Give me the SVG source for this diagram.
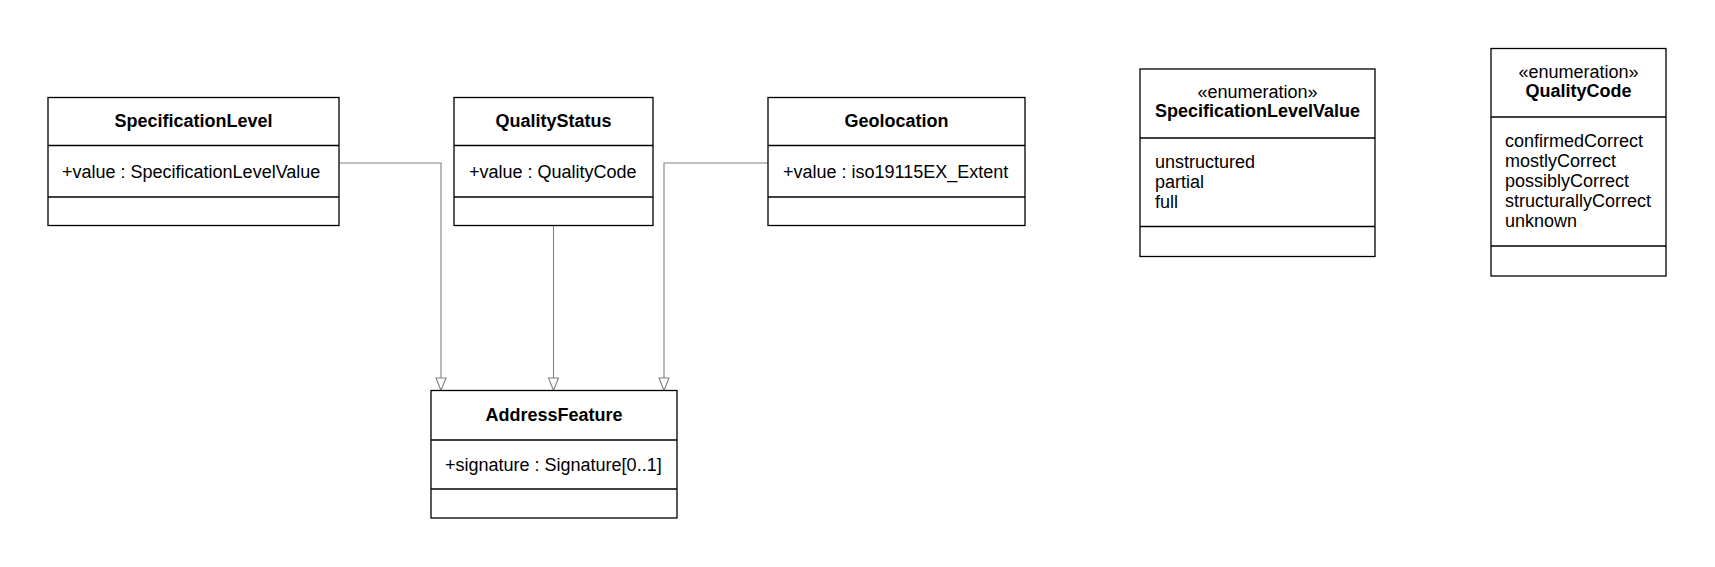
<svg xmlns="http://www.w3.org/2000/svg" width="1715" height="567" viewBox="0 0 1715 567">
<style>
.box{fill:#fff;stroke:#000;stroke-width:1.3}
.div{stroke:#000;stroke-width:1.3}
.t{font-family:"Liberation Sans",Arial,sans-serif;font-size:18px;fill:#000}
.b{font-weight:bold}
.c{text-anchor:middle}
.conn{fill:none;stroke:#808080;stroke-width:1.1}
.head{fill:#fff;stroke:#808080;stroke-width:1.1}
</style>
<rect width="1715" height="567" fill="#fff"/>
<g id="connectors">
<polyline class="conn" points="339,163 441,163 441,378"/>
<polygon class="head" points="441,390.5 436,378 446,378"/>
<polyline class="conn" points="553.5,225 553.5,378"/>
<polygon class="head" points="553.5,390.5 548.5,378 558.5,378"/>
<polyline class="conn" points="768,163 664,163 664,378"/>
<polygon class="head" points="664,390.5 659,378 669,378"/>
</g>
<g id="SpecificationLevel">
<rect class="box" x="48" y="97.5" width="291" height="128"/>
<line class="div" x1="48" y1="145.5" x2="339" y2="145.5"/>
<line class="div" x1="48" y1="197" x2="339" y2="197"/>
<text class="t b c" x="193.5" y="127">SpecificationLevel</text>
<text class="t" x="62" y="178">+value : SpecificationLevelValue</text>
</g>
<g id="QualityStatus">
<rect class="box" x="454" y="97.5" width="199" height="128"/>
<line class="div" x1="454" y1="145.5" x2="653" y2="145.5"/>
<line class="div" x1="454" y1="197" x2="653" y2="197"/>
<text class="t b c" x="553.5" y="127">QualityStatus</text>
<text class="t" x="469" y="178">+value : QualityCode</text>
</g>
<g id="Geolocation">
<rect class="box" x="768" y="97.5" width="257" height="128"/>
<line class="div" x1="768" y1="145.5" x2="1025" y2="145.5"/>
<line class="div" x1="768" y1="197" x2="1025" y2="197"/>
<text class="t b c" x="896.5" y="127">Geolocation</text>
<text class="t" x="783" y="178">+value : iso19115EX_Extent</text>
</g>
<g id="AddressFeature">
<rect class="box" x="431" y="390.5" width="246" height="127.5"/>
<line class="div" x1="431" y1="440" x2="677" y2="440"/>
<line class="div" x1="431" y1="489" x2="677" y2="489"/>
<text class="t b c" x="554" y="420.5">AddressFeature</text>
<text class="t" x="445" y="470.5">+signature : Signature[0..1]</text>
</g>
<g id="SpecificationLevelValue">
<rect class="box" x="1140" y="69" width="235" height="187.5"/>
<line class="div" x1="1140" y1="138" x2="1375" y2="138"/>
<line class="div" x1="1140" y1="226.5" x2="1375" y2="226.5"/>
<text class="t c" x="1257.5" y="98">«enumeration»</text>
<text class="t b c" x="1257.5" y="117">SpecificationLevelValue</text>
<text class="t" x="1155" y="167.5">unstructured</text>
<text class="t" x="1155" y="187.5">partial</text>
<text class="t" x="1155" y="207.5">full</text>
</g>
<g id="QualityCode">
<rect class="box" x="1491" y="48.5" width="175" height="227.5"/>
<line class="div" x1="1491" y1="117" x2="1666" y2="117"/>
<line class="div" x1="1491" y1="246" x2="1666" y2="246"/>
<text class="t c" x="1578.5" y="78">«enumeration»</text>
<text class="t b c" x="1578.5" y="97">QualityCode</text>
<text class="t" x="1505" y="147">confirmedCorrect</text>
<text class="t" x="1505" y="167">mostlyCorrect</text>
<text class="t" x="1505" y="187">possiblyCorrect</text>
<text class="t" x="1505" y="207">structurallyCorrect</text>
<text class="t" x="1505" y="227">unknown</text>
</g>
</svg>
